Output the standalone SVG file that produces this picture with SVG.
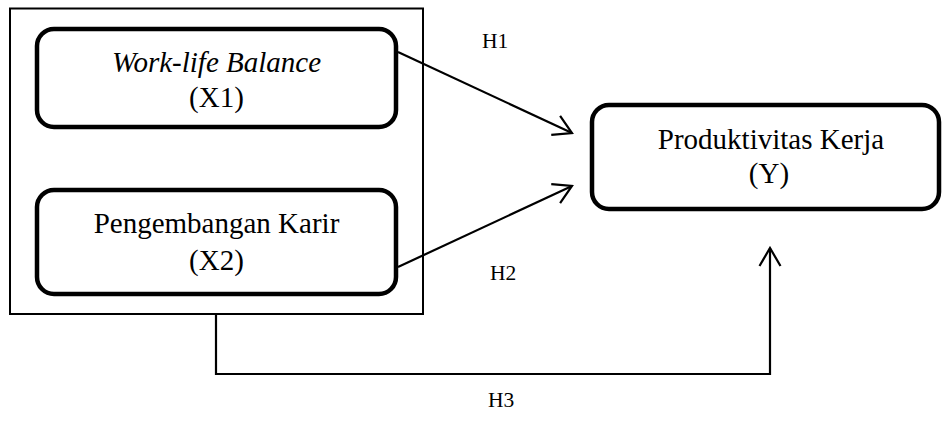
<svg xmlns="http://www.w3.org/2000/svg" width="942" height="423" viewBox="0 0 942 423">
<style>
.box{fill:#fff;stroke:#000;stroke-width:4.5}
.t{font-family:"Liberation Serif","Times New Roman",serif;font-size:29px;fill:#000;text-anchor:middle}
.h{font-family:"Liberation Serif","Times New Roman",serif;font-size:21.5px;fill:#000}
.ln{fill:none;stroke:#000;stroke-width:2.2}
</style>
<defs>
<marker id="arr" viewBox="-22 -12 24 24" markerWidth="24" markerHeight="24" refX="0" refY="0" orient="auto" markerUnits="userSpaceOnUse">
<path d="M-18,-10.5 L0,0 L-18,10.5" fill="none" stroke="#000" stroke-width="2.2"/>
</marker>
</defs>
<rect id="frame" x="10" y="8.5" width="413" height="305.5" fill="none" stroke="#000" stroke-width="2"/>
<g id="x1">
<rect class="box" x="37" y="29" width="359" height="98" rx="17"/>
<text class="t" x="216.5" y="72" font-style="italic">Work-life Balance</text>
<text class="t" x="216.5" y="107">(X1)</text>
</g>
<g id="x2">
<rect class="box" x="37" y="190" width="359" height="104" rx="17"/>
<text class="t" x="216.5" y="233">Pengembangan Karir</text>
<text class="t" x="216.5" y="270">(X2)</text>
</g>
<g id="y">
<rect class="box" x="592" y="105" width="347" height="104" rx="17"/>
<text class="t" x="771" y="149">Produktivitas Kerja</text>
<text class="t" x="769" y="183">(Y)</text>
</g>
<g id="connectors">
<line class="ln" x1="398" y1="52" x2="572" y2="133" marker-end="url(#arr)"/>
<line class="ln" x1="398" y1="267" x2="572" y2="186" marker-end="url(#arr)"/>
<polyline class="ln" points="216,314 216,374 770,374 770,248" marker-end="url(#arr)"/>
</g>
<g id="labels">
<text class="h" x="482" y="48">H1</text>
<text class="h" x="490" y="280">H2</text>
<text class="h" x="488" y="407">H3</text>
</g>
</svg>
